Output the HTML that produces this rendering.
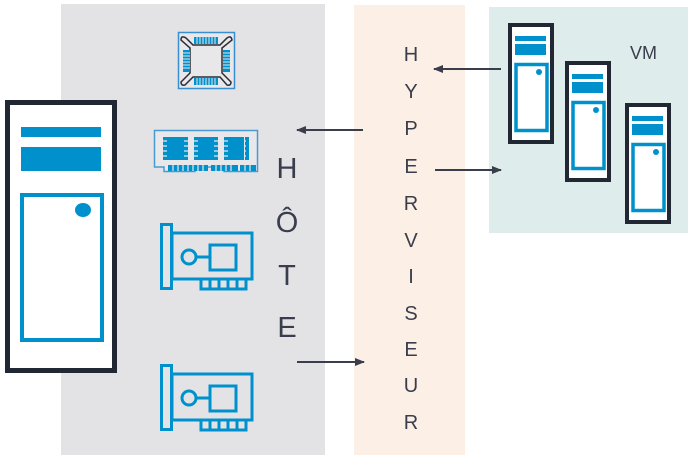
<!DOCTYPE html>
<html><head><meta charset="utf-8"><style>
html,body{margin:0;padding:0;background:#fff;width:692px;height:462px;overflow:hidden}
svg{display:block}
text{font-family:"Liberation Sans",sans-serif;fill:#3a3d4c}
</style></head><body>
<svg width="692" height="462" viewBox="0 0 692 462" xmlns="http://www.w3.org/2000/svg">
<defs><marker id="ah" markerWidth="10" markerHeight="8" refX="9" refY="4" orient="auto" markerUnits="userSpaceOnUse"><path d="M0,0 L10,4 L0,8 Z" fill="#3a3d4c"/></marker></defs>
<rect x="61" y="4" width="264" height="451" fill="#e3e3e6"/>
<rect x="354" y="5" width="111" height="450" fill="#fcefe5"/>
<rect x="489" y="7" width="199" height="226" fill="#deecec"/>

<!-- big server -->
<rect x="7.5" y="102.5" width="107" height="268" fill="#fff" stroke="#222833" stroke-width="5"/>
<rect x="21" y="127" width="80" height="10" fill="#0091cd"/>
<rect x="21" y="147" width="80" height="24" fill="#0091cd"/>
<rect x="22" y="195" width="80" height="145" fill="#fff" stroke="#0091cd" stroke-width="4"/>
<ellipse cx="83" cy="210" rx="8" ry="7" fill="#0091cd"/>

<!-- CPU -->
<rect x="178.5" y="32.5" width="56" height="56" fill="#e8e8ea" stroke="#3a8fd0" stroke-width="1.5"/>
<path d="M193,45 L220,45 L227,38 Q231,35 232,40 L222,48 L222,73 L231,82 Q231,86 227,85 L220,77 L193,77 L185,85 Q181,86 181,82 L190,73 L190,48 L181,40 Q181,35 186,38 Z" fill="#e8e8ea" stroke="#2a2d36" stroke-width="1.5"/>
<g fill="#0091cd">
<rect x="194" y="37" width="24" height="7"/><rect x="194" y="78" width="24" height="7"/>
<rect x="183" y="50" width="7" height="22"/><rect x="223" y="50" width="7" height="22"/>
</g>
<g stroke="#e8e8ea" stroke-width="1">
<path d="M197,37v7M200,37v7M203,37v7M206,37v7M209,37v7M212,37v7M215,37v7M197,78v7M200,78v7M203,78v7M206,78v7M209,78v7M212,78v7M215,78v7"/>
<path d="M183,53h7M183,56h7M183,59h7M183,62h7M183,65h7M183,68h7M223,53h7M223,56h7M223,59h7M223,62h7M223,65h7M223,68h7"/>
</g>

<!-- RAM -->
<path d="M154.5,130.5 H257.5 V171.5 H224 V167 H195 V171.5 H164 V167 H154.5 Z" fill="#e8e8ea" stroke="#4a9ad2" stroke-width="1.5"/>
<g fill="#0091cd">
<rect x="163" y="137" width="25" height="23"/><rect x="194" y="137" width="24" height="23"/><rect x="224" y="137" width="20" height="23"/>
<rect x="245" y="137" width="4" height="23"/>
<rect x="168" y="165" width="40" height="6"/><rect x="211" y="165" width="27" height="6"/><rect x="240" y="165" width="16" height="6"/>
</g>
<g stroke="#e8e8ea" stroke-width="1.2">
<path d="M163,141h4M163,146h4M163,151h4M163,156h4M184,141h4M184,146h4M184,151h4M184,156h4M194,141h4M194,146h4M194,151h4M194,156h4M214,141h4M214,146h4M214,151h4M214,156h4M224,141h4M224,146h4M224,151h4M224,156h4M244,141h2M244,146h2M244,151h2M244,156h2"/>
<path d="M173,165v6M178,165v6M183,165v6M188,165v6M193,165v6M198,165v6M203,165v6M216,165v6M221,165v6M226,165v6M231,165v6M245,165v6M250,165v6"/>
</g>

<!-- NICs -->
<g id="nic" fill="none" stroke="#0091cd" stroke-width="3">
<rect x="161.5" y="224.5" width="10" height="64"/>
<rect x="172" y="233" width="80" height="46"/>
<circle cx="189" cy="257" r="7"/>
<path d="M196,257 H209"/>
<rect x="210" y="245" width="26" height="25"/>
<path d="M201,279 V289 H246 V279 M210,279V289 M219,279V289 M228,279V289 M237,279V289"/>
</g>
<use href="#nic" y="141"/>

<!-- VMs -->
<g id="vm">
<rect x="510" y="25" width="42" height="117" fill="#fff" stroke="#222833" stroke-width="4"/>
<rect x="515" y="36" width="31" height="5" fill="#0091cd"/>
<rect x="515" y="44" width="31" height="11" fill="#0091cd"/>
<rect x="516" y="64.5" width="31" height="66" fill="#fff" stroke="#0091cd" stroke-width="3.5"/>
<circle cx="539" cy="72" r="3" fill="#0091cd"/>
</g>
<use href="#vm" x="57" y="38"/>
<use href="#vm" x="117" y="80"/>
<text x="630" y="59" font-size="18">VM</text>

<!-- arrows -->
<g stroke="#3a3d4c" stroke-width="2" fill="none" marker-end="url(#ah)">
<line x1="501" y1="69" x2="434" y2="69"/>
<line x1="363" y1="130" x2="297" y2="130"/>
<line x1="435" y1="170" x2="501" y2="170"/>
<line x1="297" y1="362" x2="364" y2="362"/>
</g>

<!-- HYPERVISEUR -->
<g font-size="20" text-anchor="middle">
<text x="411" y="61">H</text><text x="411" y="98">Y</text><text x="411" y="135">P</text><text x="411" y="173">E</text><text x="411" y="210">R</text><text x="411" y="247">V</text><text x="411" y="283">I</text><text x="411" y="320">S</text><text x="411" y="356">E</text><text x="411" y="392">U</text><text x="411" y="429">R</text>
</g>
<!-- HÔTE -->
<g font-size="29" text-anchor="middle">
<text x="287" y="178">H</text><text x="287" y="232">Ô</text><text x="287" y="285">T</text><text x="287" y="337">E</text>
</g>
</svg>
</body></html>
